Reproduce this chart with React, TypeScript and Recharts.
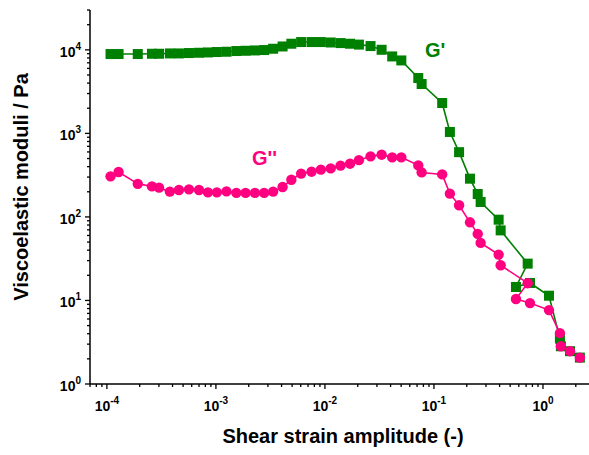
import React from 'react';
import { LineChart, Line, XAxis, YAxis } from 'recharts';

// Shear strain amplitude (-)
const strain = [
  1.08e-4, 1.28e-4, 1.92e-4, 2.59e-4, 3.01e-4, 3.78e-4, 4.58e-4, 5.66e-4, 7.0e-4, 8.45e-4,
  1.02e-3, 1.25e-3, 1.54e-3, 1.87e-3, 2.28e-3, 2.77e-3, 3.35e-3, 4.09e-3, 4.92e-3, 6.05e-3,
  7.54e-3, 9.18e-3, 1.13e-2, 1.39e-2, 1.7e-2, 2.05e-2, 2.62e-2, 3.31e-2, 4.14e-2, 5.02e-2,
  7.18e-2, 7.71e-2, 0.119, 0.14, 0.17, 0.214, 0.252, 0.268, 0.392, 0.409,
  0.724, 0.565, 0.76, 1.135, 1.43, 1.46, 1.77, 2.18,
];
// G' (Pa)
const storageModulus = [
  8910, 8910, 8910, 8980, 8980, 9060, 9060, 9160, 9230, 9310,
  9420, 9490, 9680, 9750, 9840, 9950, 10310, 10980, 11840, 12400,
  12400, 12400, 12250, 12050, 11840, 11560, 11100, 10020, 8340, 7470,
  4600, 3900, 2310, 1040, 596, 287, 188, 151, 92.7, 69,
  27.6, 14.5, 16.2, 11.4, 3.5, 2.83, 2.47, 2.07,
];
// G'' (Pa)
const lossModulus = [
  306, 345, 249, 232, 224, 201, 210, 214, 210, 197,
  197, 202, 194, 194, 194, 194, 201, 228, 279, 330,
  348, 368, 381, 411, 434, 478, 531, 556, 516, 516,
  414, 341, 323, 190, 138, 86.2, 62.6, 48.9, 35.4, 26.4,
  16.1, 10.4, 9.3, 7.67, 4.07, 2.83, 2.47, 2.07,
];

const xMajorTicks = [1e-4, 1e-3, 1e-2, 1e-1, 1];
const xTickExponents = ['-4', '-3', '-2', '-1', '0'];
const yMajorTicks = [1, 10, 100, 1000, 10000];
const yTickExponents = ['0', '1', '2', '3', '4'];
const xDomain = [7e-5, 3];
const yDomain = [1, 30000];
const minorMultipliers = [2, 3, 4, 5, 6, 7, 8, 9];

const GREEN = '#008000';
const PINK = '#FF0080';
const FONT = "Arial, 'Liberation Sans', sans-serif";

const data = strain.map((x, i) => ({ x, gp: storageModulus[i], gpp: lossModulus[i] }));

const buildMinor = (majors: number[], lo: number, hi: number) => {
  const out: number[] = [];
  const decades = [majors[0] / 10, ...majors];
  decades.forEach((d) => {
    minorMultipliers.forEach((m) => {
      const v = d * m;
      if (v >= lo * 0.999 && v <= hi * 1.001) out.push(v);
    });
  });
  return out;
};

const xTicksAll = [...xMajorTicks, ...buildMinor(xMajorTicks, xDomain[0], xDomain[1])];
const yTicksAll = [...yMajorTicks, ...buildMinor(yMajorTicks, yDomain[0], yDomain[1])];

const majorIndex = (majors: number[], v: number) =>
  majors.findIndex((t) => Math.abs(Math.log10(t) - Math.log10(v)) < 1e-6);

const XTick = (props: any) => {
  const { x, y, payload } = props;
  const idx = majorIndex(xMajorTicks, payload.value);
  if (idx < 0) {
    return <line x1={x} x2={x} y1={y} y2={y + 3} stroke="#000" strokeWidth={1.3} />;
  }
  return (
    <g>
      <line x1={x} x2={x} y1={y} y2={y + 5} stroke="#000" strokeWidth={1.3} />
      <text x={x} y={y + 27} textAnchor="middle" fontFamily={FONT} fontWeight="bold" fontSize={14} fill="#000">
        10
        <tspan dy={-7} fontSize={10}>{xTickExponents[idx]}</tspan>
      </text>
    </g>
  );
};

const YTick = (props: any) => {
  const { x, y, payload } = props;
  const idx = majorIndex(yMajorTicks, payload.value);
  if (idx < 0) {
    return <line x1={x - 3} x2={x} y1={y} y2={y} stroke="#000" strokeWidth={1.3} />;
  }
  return (
    <g>
      <line x1={x - 5} x2={x} y1={y} y2={y} stroke="#000" strokeWidth={1.3} />
      <text x={x - 9} y={y + 7} textAnchor="end" fontFamily={FONT} fontWeight="bold" fontSize={14} fill="#000">
        10
        <tspan dy={-7} fontSize={10}>{yTickExponents[idx]}</tspan>
      </text>
    </g>
  );
};

const SquareDot = (p: any) => {
  const { cx, cy, index } = p;
  if (cx == null || cy == null) return <g key={`sq-${index}`} />;
  return <rect key={`sq-${index}`} x={cx - 5} y={cy - 5} width={10} height={10} fill={GREEN} />;
};

const CircleDot = (p: any) => {
  const { cx, cy, index } = p;
  if (cx == null || cy == null) return <g key={`ci-${index}`} />;
  return <circle key={`ci-${index}`} cx={cx} cy={cy} r={5.2} fill={PINK} />;
};

export default function App() {
  return (
    <div style={{ position: 'absolute', left: 0, top: 0, width: 589, height: 455, overflow: 'hidden', background: '#fff' }}>
      <LineChart width={596} height={455} data={data} margin={{ top: 10, right: 1, left: 0, bottom: 11 }}>
        <XAxis
          dataKey="x"
          type="number"
          scale="log"
          domain={xDomain}
          allowDataOverflow
          ticks={xTicksAll}
          interval={0}
          tickLine={false}
          tickSize={0}
          tickMargin={0}
          tick={<XTick />}
          height={60}
          axisLine={{ stroke: '#000', strokeWidth: 1.5 }}
        />
        <YAxis
          type="number"
          scale="log"
          domain={yDomain}
          allowDataOverflow
          ticks={yTicksAll}
          interval={0}
          tickLine={false}
          tickSize={0}
          tickMargin={0}
          tick={<YTick />}
          width={90}
          axisLine={{ stroke: '#000', strokeWidth: 1.5 }}
        />
        <Line
          dataKey="gp"
          stroke={GREEN}
          strokeWidth={1.6}
          dot={SquareDot}
          activeDot={false}
          isAnimationActive={false}
        />
        <Line
          dataKey="gpp"
          stroke={PINK}
          strokeWidth={1.6}
          dot={CircleDot}
          activeDot={false}
          isAnimationActive={false}
        />
        <text x={343} y={443} textAnchor="middle" fontFamily={FONT} fontWeight="bold" fontSize={20} fill="#000">
          Shear strain amplitude (-)
        </text>
        <text transform="translate(28,187) rotate(-90)" textAnchor="middle" fontFamily={FONT} fontWeight="bold" fontSize={20} fill="#000">
          Viscoelastic moduli / Pa
        </text>
        <text x={425} y={57} fontFamily={FONT} fontWeight="bold" fontSize={20} fill={GREEN}>
          G'
        </text>
        <text x={252} y={165} fontFamily={FONT} fontWeight="bold" fontSize={20} fill={PINK}>
          G''
        </text>
      </LineChart>
    </div>
  );
}
